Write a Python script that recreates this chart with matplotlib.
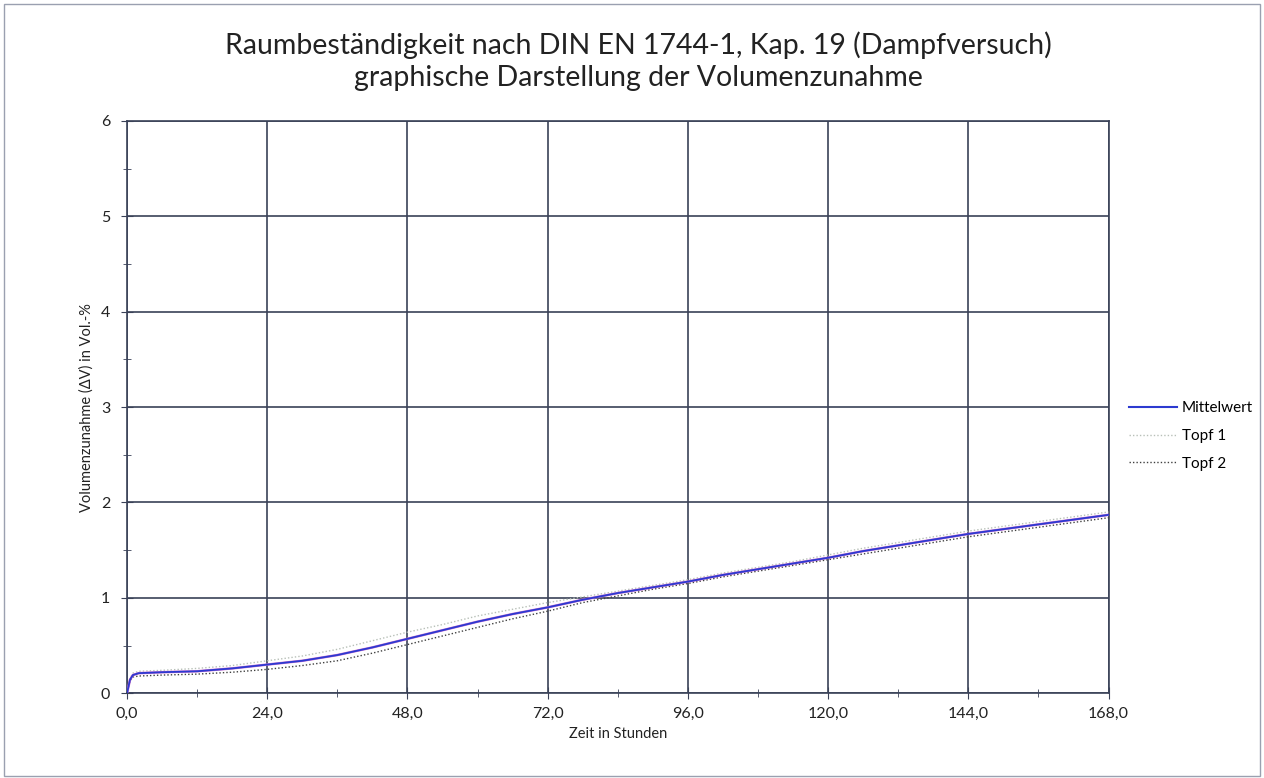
import matplotlib
matplotlib.use("Agg")
import matplotlib.pyplot as plt
from matplotlib.ticker import MultipleLocator, FuncFormatter
from matplotlib.lines import Line2D

plt.rcParams["font.family"] = ["Lato", "DejaVu Sans"]

# time in hours
hours = [0, 0.5, 1, 2, 6, 12, 18, 24, 30, 36, 42, 48, 54, 60, 66, 72, 78, 84, 90, 96,
         102, 108, 114, 120, 126, 132, 138, 144, 150, 156, 162, 168]
mittelwert = [0.0, 0.14, 0.19, 0.21, 0.22, 0.23, 0.26, 0.30, 0.34, 0.40, 0.48, 0.57, 0.66, 0.75,
              0.83, 0.90, 0.98, 1.05, 1.11, 1.17, 1.24, 1.30, 1.36, 1.42, 1.49, 1.55, 1.61, 1.67,
              1.72, 1.77, 1.82, 1.87]
topf1 = [0.0, 0.15, 0.21, 0.23, 0.24, 0.26, 0.29, 0.34, 0.39, 0.46, 0.55, 0.64, 0.72, 0.81,
         0.88, 0.95, 1.01, 1.07, 1.13, 1.19, 1.26, 1.32, 1.38, 1.45, 1.52, 1.58, 1.64, 1.70,
         1.75, 1.80, 1.85, 1.90]
topf2 = [0.0, 0.13, 0.17, 0.18, 0.19, 0.20, 0.22, 0.25, 0.29, 0.34, 0.42, 0.51, 0.60, 0.69,
         0.78, 0.86, 0.95, 1.02, 1.09, 1.15, 1.22, 1.28, 1.34, 1.40, 1.46, 1.52, 1.58, 1.64,
         1.69, 1.74, 1.79, 1.84]

fig = plt.figure(figsize=(12.64, 7.78), dpi=100)
ax = fig.add_axes([0.1005, 0.109, 0.7765, 0.7355])

grid_col = "#3a4258"
ax.plot(hours, topf1, color="#b8c0b8", linestyle=(0, (1, 1.5)), linewidth=1.0, zorder=3)
ax.plot(hours, topf2, color="#404040", linestyle=(0, (1, 1.5)), linewidth=1.0, zorder=3)
ax.plot(hours, mittelwert, color="#d070d0", linewidth=1.8, zorder=4)
ax.plot(hours, mittelwert, color="#2c3ad0", linewidth=1.3, zorder=5)

ax.set_xlim(0, 168)
ax.set_ylim(0, 6)
ax.xaxis.set_major_locator(MultipleLocator(24))
ax.xaxis.set_minor_locator(MultipleLocator(12))
ax.yaxis.set_major_locator(MultipleLocator(1))
ax.yaxis.set_minor_locator(MultipleLocator(0.5))
ax.xaxis.set_major_formatter(FuncFormatter(lambda v, p: f"{v:.1f}".replace(".", ",")))
ax.yaxis.set_major_formatter(FuncFormatter(lambda v, p: f"{v:.0f}"))
ax.grid(True, which="major", color=grid_col, linewidth=1.2)
ax.tick_params(which="both", direction="inout", color=grid_col, labelsize=11.5, labelcolor="#222222")
ax.tick_params(which="major", length=8)
ax.tick_params(which="minor", length=6)
ax.tick_params(axis="x", pad=6)
ax.tick_params(axis="y", pad=8)
for s in ax.spines.values():
    s.set_color(grid_col)
    s.set_linewidth(1.2)

ax.set_xlabel("Zeit in Stunden", fontsize=10.5, color="#222222", labelpad=4)
ax.set_ylabel("Volumenzunahme (ΔV) in Vol.-%", fontsize=10.5, color="#222222", labelpad=5)

fig.text(0.505, 1 - 61 / 778, "Raumbeständigkeit nach DIN EN 1744-1, Kap. 19 (Dampfversuch)\ngraphische Darstellung der Volumenzunahme",
         ha="center", va="center", fontsize=20.5, color="#222222", linespacing=1.3)

handles = [
    Line2D([], [], color="#2c3ad0", linewidth=1.5),
    Line2D([], [], color="#b8c0b8", linestyle=(0, (1, 1.5)), linewidth=1.0),
    Line2D([], [], color="#404040", linestyle=(0, (1, 1.5)), linewidth=1.0),
]
fig.legend(handles, ["Mittelwert", "Topf 1", "Topf 2"], loc="center left",
           bbox_to_anchor=(0.882, 1 - 436 / 778), frameon=False, fontsize=11,
           handlelength=3.2, handletextpad=0.3, labelspacing=0.9)

fig.patches.append(plt.Rectangle((0.003, 0.003), 0.994, 0.992, transform=fig.transFigure,
                                 fill=False, edgecolor="#9aa0b0", linewidth=1.0))

fig.savefig("out.png", dpi=100)
